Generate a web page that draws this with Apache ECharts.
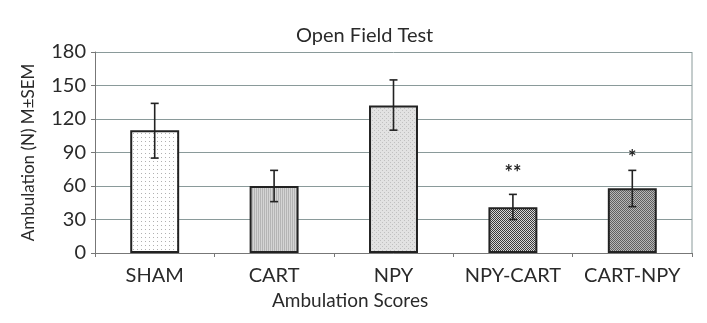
<!DOCTYPE html>
<html>
<head>
<meta charset="utf-8">
<script src="https://cdn.jsdelivr.net/npm/echarts@6/dist/echarts.min.js"></script>
<style>
  html, body { margin: 0; padding: 0; background: #fff; }
  #main { width: 707px; height: 323px; }
</style>
</head>
<body>
<div id="main"></div>
<script>
// data
var categories = ["SHAM", "CART", "NPY", "NPY-CART", "CART-NPY"];
var means = [110, 60, 132, 41, 58];
var errLow = [85, 46, 110, 30, 41.5];
var errHigh = [134, 74, 155, 52.5, 74];
var stars = ["", "", "", "**", "*"];
var starPos = [0, 0, 0, 71, 85];
var yTicks = [0, 30, 60, 90, 120, 150, 180];

// little fill patterns, one per bar
function makePattern(bg, fg, kind) {
  var c = document.createElement("canvas");
  c.width = 4; c.height = 4;
  var ctx = c.getContext("2d");
  ctx.fillStyle = bg;
  ctx.fillRect(0, 0, 4, 4);
  ctx.fillStyle = fg;
  if (kind === "sparse") {
    ctx.fillRect(1, 1, 1, 1);
  } else if (kind === "stripe") {
    ctx.fillRect(0, 0, 1, 4);
    ctx.fillRect(2, 0, 1, 4);
  } else if (kind === "checker") {
    ctx.fillRect(0, 0, 1, 1); ctx.fillRect(2, 0, 1, 1);
    ctx.fillRect(1, 1, 1, 1); ctx.fillRect(3, 1, 1, 1);
    ctx.fillRect(0, 2, 1, 1); ctx.fillRect(2, 2, 1, 1);
    ctx.fillRect(1, 3, 1, 1); ctx.fillRect(3, 3, 1, 1);
  } else {
    ctx.fillRect(0, 0, 1, 1); ctx.fillRect(2, 2, 1, 1);
  }
  return c;
}

var fills = [
  makePattern("#ffffff", "#b0b0b0", "sparse"),
  makePattern("#d4d4d4", "#b4b4b4", "stripe"),
  makePattern("#e2e2e2", "#c0c0c0", "dots"),
  makePattern("#d8d8d8", "#3a3a3a", "checker"),
  makePattern("#b8b8b8", "#606060", "checker")
];

var barData = means.map(function (v, i) {
  return {
    value: v,
    itemStyle: { color: { image: fills[i], repeat: "repeat" } }
  };
});

var errData = categories.map(function (c, i) {
  return [i, errLow[i], errHigh[i]];
});

var starData = [];
for (var i = 0; i < stars.length; i++) {
  if (stars[i]) starData.push({ value: [i, starPos[i]], label: stars[i] });
}

var chartDom = document.getElementById("main");
var myChart = echarts.init(chartDom);
var font = "Lato, 'DejaVu Sans', sans-serif";
var txt = "#2a2a2a";

var option = {
  animation: false,
  textStyle: { fontFamily: font },
  title: {
    text: "Open Field Test",
    left: 291,
    top: 21,
    textStyle: { fontSize: 20, fontWeight: "normal", color: txt, fontFamily: font }
  },
  grid: { left: 95, right: 15, top: 52, bottom: 70 },
  xAxis: {
    type: "category",
    data: categories,
    boundaryGap: true,
    axisLine: { lineStyle: { color: "#777", width: 1 } },
    axisTick: { show: true, length: 4, lineStyle: { color: "#777" } },
    axisLabel: { interval: 0, hideOverlap: false, fontSize: 20, color: txt, margin: 13, fontFamily: font }
  },
  yAxis: {
    type: "value",
    min: 0,
    max: 180,
    interval: 30,
    name: "Ambulation (N) M±SEM",
    nameLocation: "middle",
    nameGap: 58,
    nameTextStyle: { fontSize: 17, color: txt, fontFamily: font },
    axisLine: { show: true, lineStyle: { color: "#777" } },
    axisTick: { show: true, length: 4, lineStyle: { color: "#777" } },
    axisLabel: {
      fontSize: 20, color: txt, margin: 9, fontFamily: font,
      formatter: function (v) { return yTicks.indexOf(v) >= 0 ? String(v) : ""; }
    },
    splitLine: { show: true, lineStyle: { color: "#8a9a9a", width: 1 } }
  },
  series: [
    {
      type: "bar",
      data: barData,
      barWidth: "41%",
      itemStyle: { borderColor: "#222", borderWidth: 2 }
    },
    {
      type: "custom",
      data: errData,
      z: 5,
      renderItem: function (params, api) {
        var x = api.value(0);
        var lo = api.coord([x, api.value(1)]);
        var hi = api.coord([x, api.value(2)]);
        var hw = 4;
        var st = { stroke: "#222", lineWidth: 1.6 };
        return {
          type: "group",
          children: [
            { type: "line", shape: { x1: hi[0], y1: hi[1], x2: lo[0], y2: lo[1] }, style: st },
            { type: "line", shape: { x1: hi[0] - hw, y1: hi[1], x2: hi[0] + hw, y2: hi[1] }, style: st },
            { type: "line", shape: { x1: lo[0] - hw, y1: lo[1], x2: lo[0] + hw, y2: lo[1] }, style: st }
          ]
        };
      }
    },
    {
      type: "custom",
      data: starData,
      z: 6,
      renderItem: function (params, api) {
        var p = api.coord([api.value(0), api.value(1)]);
        return {
          type: "text",
          x: p[0],
          y: p[1],
          style: {
            text: starData[params.dataIndex].label,
            fontSize: 20, fontWeight: "bold", fill: "#222",
            align: "center", verticalAlign: "middle", fontFamily: font
          }
        };
      }
    }
  ]
};

option && myChart.setOption(option);

// x axis title and right border of the plot area, like the original frame
var rect = myChart.getModel().getComponent("grid").coordinateSystem.getRect();
myChart.setOption({
  graphic: [
    { type: "text", left: 272, top: 291,
      style: { text: "Ambulation Scores", fontSize: 19, fill: txt, fontFamily: font } },
    { type: "line", z: 1, silent: true,
      shape: { x1: rect.x + rect.width, y1: rect.y, x2: rect.x + rect.width, y2: rect.y + rect.height },
      style: { stroke: "#8a9a9a", lineWidth: 1 } }
  ]
});
</script>
</body>
</html>
